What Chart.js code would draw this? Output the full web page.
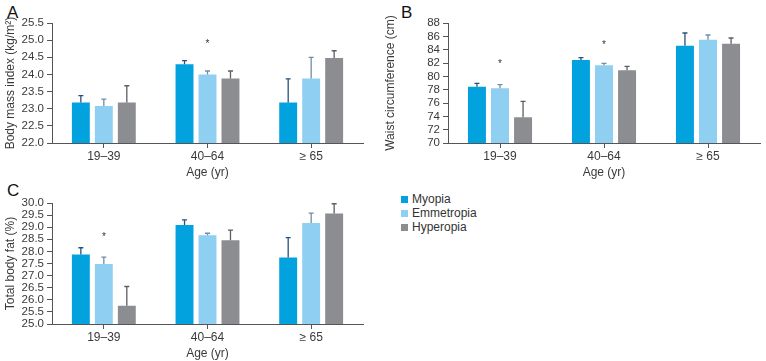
<!DOCTYPE html>
<html><head><meta charset="utf-8">
<script src="https://cdn.jsdelivr.net/npm/chart.js@4/dist/chart.umd.min.js"></script>
<style>
html,body{margin:0;padding:0;background:#fff;width:766px;height:361px;overflow:hidden;font-family:"Liberation Sans",Arial,sans-serif;}
.panel{position:absolute;}
.letter{position:absolute;font-size:17px;color:#111;}
#legend{position:absolute;left:401px;top:192px;font-size:12px;color:#333;}
#legend div{height:14px;line-height:14px;white-space:nowrap;}
#legend span.sw{display:inline-block;width:7px;height:7px;margin-right:4px;vertical-align:0px;}
</style></head>
<body>
<div class="letter" style="left:7px;top:3px;">A</div>
<div class="letter" style="left:401px;top:3px;">B</div>
<div class="letter" style="left:7px;top:181px;">C</div>
<div class="panel" style="left:0;top:0;"><canvas id="cA" width="380" height="180"></canvas></div>
<div class="panel" style="left:380px;top:0;"><canvas id="cB" width="386" height="180"></canvas></div>
<div class="panel" style="left:0;top:180px;"><canvas id="cC" width="380" height="181"></canvas></div>
<div id="legend"></div>
<script>
const categories = ['19\u201339', '40\u201364', '\u2265 65'];
const seriesNames = ['Myopia', 'Emmetropia', 'Hyperopia'];
const seriesColors = ['#02a2df', '#8fcff1', '#8c8d90'];
const errorColors = ['#24527e', '#6f8ea6', '#5d5e61'];

// A: Body mass index
const bmiMyopia = [23.18, 24.30, 23.18];
const bmiEmmetropia = [23.08, 24.00, 23.88];
const bmiHyperopia = [23.18, 23.88, 24.48];
const bmiMyopiaUpper = [23.38, 24.40, 23.87];
const bmiEmmetropiaUpper = [23.28, 24.10, 24.50];
const bmiHyperopiaUpper = [23.67, 24.10, 24.69];
const bmiStars = [{cat: 1, series: 1, value: 24.93}];

// B: Waist circumference
const waistMyopia = [78.45, 82.45, 84.6];
const waistEmmetropia = [78.2, 81.65, 85.5];
const waistHyperopia = [73.85, 80.9, 84.9];
const waistMyopiaUpper = [78.95, 82.8, 86.5];
const waistEmmetropiaUpper = [78.75, 81.95, 86.2];
const waistHyperopiaUpper = [76.25, 81.5, 85.75];
const waistStars = [{cat: 0, series: 1, value: 82.05}, {cat: 1, series: 1, value: 85.0}];

// C: Total body fat
const fatMyopia = [27.87, 29.09, 27.75];
const fatEmmetropia = [27.48, 28.67, 29.17];
const fatHyperopia = [25.75, 28.46, 29.57];
const fatMyopiaUpper = [28.15, 29.30, 28.57];
const fatEmmetropiaUpper = [27.76, 28.75, 29.58];
const fatHyperopiaUpper = [26.55, 28.88, 29.97];
const fatStars = [{cat: 0, series: 1, value: 28.67}];

const FONT = '"Liberation Sans", Arial, sans-serif';
const AXIS = '#555';
const TXT = '#3a3a3a';

function errPlugin(upper, stars) {
  return {
    id: 'errbars',
    afterDatasetsDraw(chart) {
      const ctx = chart.ctx, ys = chart.scales.y;
      ctx.save();
      chart.data.datasets.forEach((ds, i) => {
        const meta = chart.getDatasetMeta(i);
        meta.data.forEach((el, j) => {
          const yt = ys.getPixelForValue(upper[i][j]);
          ctx.strokeStyle = errorColors[i];
          ctx.lineWidth = 1.3;
          ctx.beginPath();
          ctx.moveTo(el.x, el.y);
          ctx.lineTo(el.x, yt);
          ctx.moveTo(el.x - 2.5, yt);
          ctx.lineTo(el.x + 2.5, yt);
          ctx.stroke();
        });
      });
      ctx.fillStyle = '#333';
      ctx.font = '10px ' + FONT;
      ctx.textAlign = 'center';
      ctx.textBaseline = 'middle';
      stars.forEach(s => {
        const el = chart.getDatasetMeta(s.series).data[s.cat];
        ctx.fillText('*', el.x, ys.getPixelForValue(s.value) + 2);
      });
      ctx.restore();
    }
  };
}

function makeChart(id, series, upper, stars, yMin, yMax, step, decimals, yTitle, yWidth, padRight) {
  return new Chart(document.getElementById(id), {
    type: 'bar',
    data: {
      labels: categories,
      datasets: series.map((d, i) => ({
        label: seriesNames[i], data: d, backgroundColor: seriesColors[i],
        borderWidth: 0, categoryPercentage: 0.665, barPercentage: 0.78
      }))
    },
    options: {
      responsive: false, devicePixelRatio: 1, animation: false,
      layout: {padding: {top: 23, right: padRight, left: 0, bottom: 0}},
      plugins: {legend: {display: false}, tooltip: {enabled: false}},
      scales: {
        x: {
          grid: {display: true, drawOnChartArea: false, drawTicks: true, tickLength: 5, offset: false, color: AXIS},
          border: {display: true, color: AXIS, width: 1},
          ticks: {color: TXT, font: {family: FONT, size: 12}, padding: 1, maxRotation: 0, autoSkip: false},
          title: {display: true, text: 'Age (yr)', color: TXT, font: {family: FONT, size: 12}, padding: {top: 2, bottom: 0}},
          afterFit(s) { s.height = 37; }
        },
        y: {
          min: yMin, max: yMax,
          grid: {display: true, drawOnChartArea: false, drawTicks: true, tickLength: 5, color: AXIS},
          border: {display: true, color: AXIS, width: 1},
          ticks: {stepSize: step, color: TXT, font: {family: FONT, size: 11.5}, padding: 3, autoSkip: false,
                  callback: v => Number(v).toFixed(decimals)},
          title: {display: true, text: yTitle, color: TXT, font: {family: FONT, size: 12}, padding: {top: 3, bottom: 2}},
          afterFit(s) { s.width = yWidth; }
        }
      }
    },
    plugins: [errPlugin(upper, stars)]
  });
}

makeChart('cA', [bmiMyopia, bmiEmmetropia, bmiHyperopia],
  [bmiMyopiaUpper, bmiEmmetropiaUpper, bmiHyperopiaUpper], bmiStars,
  22.0, 25.5, 0.5, 1, 'Body mass index (kg/m\u00b2)', 52, 17);
makeChart('cB', [waistMyopia, waistEmmetropia, waistHyperopia],
  [waistMyopiaUpper, waistEmmetropiaUpper, waistHyperopiaUpper], waistStars,
  70, 88, 2, 0, 'Waist circumference (cm)', 68, 6);
makeChart('cC', [fatMyopia, fatEmmetropia, fatHyperopia],
  [fatMyopiaUpper, fatEmmetropiaUpper, fatHyperopiaUpper], fatStars,
  25.0, 30.0, 0.5, 1, 'Total body fat (%)', 52, 17);

const lg = document.getElementById('legend');
seriesNames.forEach((n, i) => {
  const d = document.createElement('div');
  d.innerHTML = '<span class="sw" style="background:' + seriesColors[i] + '"></span>' + n;
  lg.appendChild(d);
});
</script>
</body></html>
